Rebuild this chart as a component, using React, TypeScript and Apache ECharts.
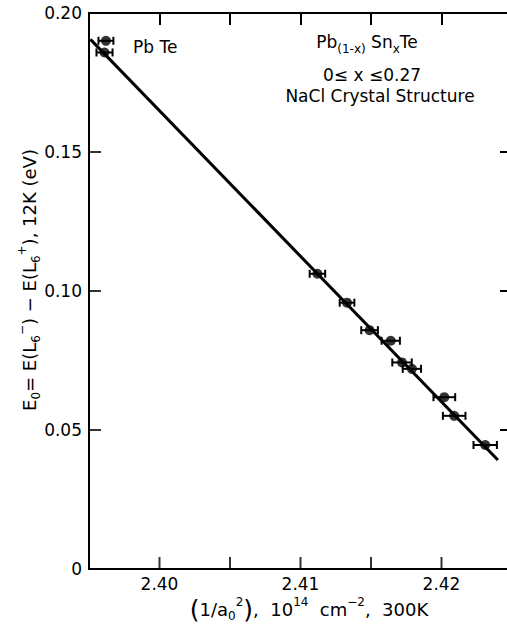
import React, { useEffect, useRef } from "react";
import * as echarts from "echarts";

// Measured points (x = 1/a0^2 in 1e14 cm^-2, y = E0 in eV), half-width of x error bars
const xValues = [2.3962, 2.3961, 2.4112, 2.4133, 2.4149, 2.4164, 2.4172, 2.4179, 2.4202, 2.4209, 2.4231];
const yValues = [0.19, 0.1858, 0.1062, 0.0958, 0.0859, 0.0821, 0.0743, 0.072, 0.0618, 0.0551, 0.0446];
const xErrors = [0.00053, 0.00057, 0.00055, 0.00052, 0.00059, 0.00065, 0.00069, 0.00065, 0.00077, 0.0008, 0.00083];

// Fitted straight line end points
const fitX = [2.3951, 2.424];
const fitY = [0.1905, 0.0392];

const xTicks = { min: 2.395, max: 2.425, step: 0.005 };
const xLabelValues = [2.4, 2.41, 2.42];
const yTicks = { min: 0, max: 0.2, step: 0.05 };
// inward tick marks on the bottom and left frame
const xTickValues = [2.4, 2.405, 2.41, 2.415, 2.42];
const yTickValues = [0.05, 0.1, 0.15];

const FONT = "DejaVu Sans";

function makeRich(size: number, lh: number) {
  return {
    n: { fontFamily: FONT, fontSize: size, lineHeight: lh, verticalAlign: "middle" as const, fill: "#000" },
    big: { fontFamily: FONT, fontSize: size + 7, lineHeight: lh, verticalAlign: "middle" as const, fill: "#000" },
    sub: { fontFamily: FONT, fontSize: 12, lineHeight: 12, verticalAlign: "bottom" as const, fill: "#000" },
    sup: { fontFamily: FONT, fontSize: 12, lineHeight: 12, verticalAlign: "top" as const, fill: "#000" },
  };
}

export default function App() {
  const ref = useRef<HTMLDivElement>(null);

  useEffect(() => {
    if (!ref.current) return;
    const chart = echarts.init(ref.current, null, { renderer: "svg" });

    const points = xValues.map((x, i) => [x, yValues[i], xErrors[i]]);
    const fit = fitX.map((x, i) => [x, fitY[i]]);

    const axisLine = { show: true, onZero: false, lineStyle: { color: "#000", width: 2 } };
    const tickSecondary = { show: true, inside: true, length: 12, lineStyle: { color: "#000", width: 2 } };
    const labelStyle = { color: "#000", fontFamily: FONT, fontSize: 17 };
    const xRange = { type: "value" as const, min: xTicks.min, max: xTicks.max, interval: xTicks.step, splitLine: { show: false } };
    const yRange = { type: "value" as const, min: yTicks.min, max: yTicks.max, interval: yTicks.step, splitLine: { show: false } };

    const base = { fontFamily: FONT, fontSize: 17, fill: "#000" };

    chart.setOption({
      animation: false,
      backgroundColor: "#fff",
      grid: { left: 89, top: 13, width: 423, height: 556, outerBoundsMode: "none", containLabel: false },
      xAxis: [
        {
          ...xRange,
          position: "bottom",
          axisLine,
          axisTick: { show: false },
          axisLabel: {
            ...labelStyle,
            margin: 6,
            customValues: xLabelValues,
            formatter: (v: number) => v.toFixed(2),
          },
        },
        { ...xRange, position: "top", axisLine, axisTick: tickSecondary, axisLabel: { show: false } },
      ],
      yAxis: [
        {
          ...yRange,
          position: "left",
          axisLine,
          axisTick: { show: false },
          axisLabel: {
            ...labelStyle,
            margin: 7,
            formatter: (v: number) => (v === 0 ? "0" : v.toFixed(2)),
          },
        },
        { ...yRange, position: "right", axisLine, axisTick: tickSecondary, axisLabel: { show: false } },
      ],
      series: [
        {
          // bottom frame ticks pointing up into the plot
          type: "scatter",
          data: xTickValues.map((v) => [v, yTicks.min]),
          symbol: "rect",
          symbolSize: [2, 12],
          symbolOffset: [0, -6],
          itemStyle: { color: "#000" },
          clip: false,
          silent: true,
          z: 5,
        },
        {
          // left frame ticks pointing right into the plot
          type: "scatter",
          data: yTickValues.map((v) => [xTicks.min, v]),
          symbol: "rect",
          symbolSize: [12, 2],
          symbolOffset: [6, 0],
          itemStyle: { color: "#000" },
          clip: false,
          silent: true,
          z: 5,
        },
        {
          type: "line",
          data: fit,
          symbol: "none",
          lineStyle: { color: "#000", width: 3 },
          z: 2,
        },
        {
          type: "custom",
          data: points,
          z: 3,
          renderItem: (_p: any, api: any) => {
            const x = api.value(0);
            const y = api.value(1);
            const e = api.value(2);
            const l = api.coord([x - e, y]);
            const r = api.coord([x + e, y]);
            const st = { stroke: "#000", lineWidth: 2 };
            return {
              type: "group",
              children: [
                { type: "line", shape: { x1: l[0], y1: l[1], x2: r[0], y2: r[1] }, style: st },
                { type: "line", shape: { x1: l[0], y1: l[1] - 4, x2: l[0], y2: l[1] + 4 }, style: st },
                { type: "line", shape: { x1: r[0], y1: r[1] - 4, x2: r[0], y2: r[1] + 4 }, style: st },
              ],
            };
          },
        },
        {
          type: "scatter",
          data: points.map((p) => [p[0], p[1]]),
          symbol: "circle",
          symbolSize: 10,
          itemStyle: { color: "#000" },
          z: 4,
        },
      ],
      graphic: [
        {
          type: "text",
          left: 133,
          top: 38,
          style: { ...base, text: "Pb Te" },
        },
        {
          type: "text",
          x: 367,
          y: 42,
          style: {
            text: "{n|Pb}{sub|(1-x)}{n| Sn}{sub|x}{n|Te}",
            rich: makeRich(17, 26),
            align: "center",
            verticalAlign: "middle",
          },
        },
        {
          type: "text",
          x: 372,
          y: 75,
          style: { ...base, text: "0≤ x ≤0.27", align: "center", verticalAlign: "middle" },
        },
        {
          type: "text",
          x: 380,
          y: 96,
          style: { ...base, text: "NaCl Crystal Structure", align: "center", verticalAlign: "middle" },
        },
        {
          type: "text",
          x: 29,
          y: 280,
          rotation: Math.PI / 2,
          style: {
            text: "{n|E}{sub|0}{n|= E(L}{sub|6}{sup|−}{n|) − E(L}{sub|6}{sup|+}{n|), 12K (eV)}",
            rich: makeRich(18, 26),
            align: "center",
            verticalAlign: "middle",
          },
        },
        {
          type: "text",
          x: 309,
          y: 609,
          style: {
            text: "{big|(}{n|1/a}{sub|0}{sup|2}{big|)}{n|,  10}{sup|14}{n|  cm}{sup|−2}{n|,  300K}",
            rich: makeRich(18, 26),
            align: "center",
            verticalAlign: "middle",
          },
        },
      ],
    });

    return () => chart.dispose();
  }, []);

  return (
    <div
      ref={ref}
      style={{ position: "absolute", left: 0, top: 0, width: 507, height: 625, background: "#fff" }}
    />
  );
}
